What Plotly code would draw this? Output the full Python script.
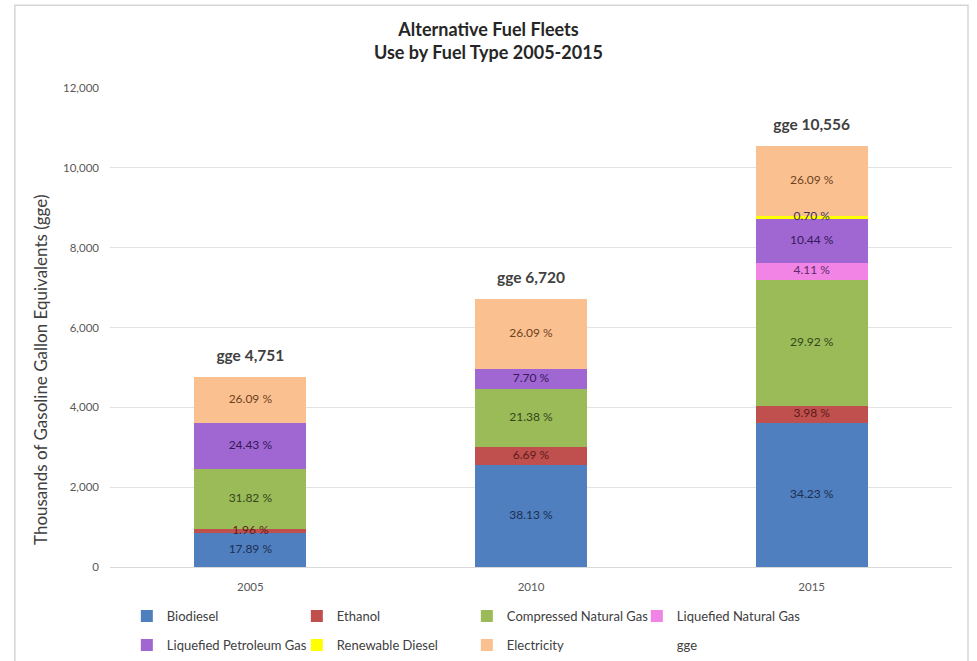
import plotly.graph_objects as go

# Fleet fuel use, thousands of gasoline gallon equivalents (gge)
years = ["2005", "2010", "2015"]
totals = [4751, 6720, 10556]

# Share of each year's total, percent (None = not used that year)
biodiesel_pct = [17.89, 38.13, 34.23]
ethanol_pct = [1.96, 6.69, 3.98]
cng_pct = [31.82, 21.38, 29.92]
lng_pct = [None, None, 4.11]
lpg_pct = [24.43, 7.70, 10.44]
renewable_pct = [None, None, 0.70]
# Electricity labels as printed on the chart; its segment is the remainder of the total
electricity_labels = ["26.09 %", "26.09 %", "26.09 %"]

series = [
    ("Biodiesel", biodiesel_pct, "#4F7FBE", "#1B2F52", "legend"),
    ("Ethanol", ethanol_pct, "#C0504D", "#5C1B1A", "legend"),
    ("Compressed Natural Gas", cng_pct, "#9BBB59", "#34461A", "legend"),
    ("Liquefied Natural Gas", lng_pct, "#F284E6", "#5B2B67", "legend"),
    ("Liquefied Petroleum Gas", lpg_pct, "#A067D2", "#35195A", "legend2"),
    ("Renewable Diesel", renewable_pct, "#FFFF00", "#3A3352", "legend2"),
]

FONT = "Lato, 'Open Sans', sans-serif"

fig = go.Figure()

# running stack height per year, used to place the percentage labels
base = [0.0] * len(years)
lab_x, lab_y, lab_t, lab_c = [], [], [], []

for name, pct, color, txtcolor, leg in series:
    vals = []
    for i, p in enumerate(pct):
        if p is None:
            vals.append(None)
            continue
        v = totals[i] * p / 100.0
        vals.append(v)
        lab_x.append(years[i])
        lab_y.append(base[i] + v / 2)
        lab_t.append(f"{p:.2f} %")
        lab_c.append(txtcolor)
        base[i] += v
    fig.add_trace(go.Bar(
        name=name, x=years, y=vals, legend=leg,
        marker=dict(color=color, line=dict(width=0)),
        hoverinfo="skip",
    ))

electricity = [t - b for t, b in zip(totals, base)]
fig.add_trace(go.Bar(
    name="Electricity", x=years, y=electricity, legend="legend2",
    marker=dict(color="#FAC090", line=dict(width=0)),
    hoverinfo="skip",
))
for i, e in enumerate(electricity):
    lab_x.append(years[i])
    lab_y.append(base[i] + e / 2)
    lab_t.append(electricity_labels[i])
    lab_c.append("#6E4020")

# Percentage labels, drawn above all segments
fig.add_trace(go.Scatter(
    x=lab_x, y=lab_y, text=lab_t, mode="text", showlegend=False,
    textposition="middle center",
    textfont=dict(family=FONT, size=12, color=lab_c),
    cliponaxis=False, hoverinfo="skip",
))

# Total labels above each stack
fig.add_trace(go.Scatter(
    name="gge", x=years, y=totals, mode="markers+text", legend="legend2",
    text=[f"gge {t:,}" for t in totals], textposition="top center",
    marker=dict(size=18, color="rgba(0,0,0,0)"),
    textfont=dict(family=FONT, size=15.5, color="#404040", weight="bold"),
    cliponaxis=False, hoverinfo="skip",
))

legend_common = dict(
    orientation="h", x=0.02, xanchor="left", xref="paper",
    yref="container", yanchor="middle",
    traceorder="normal", entrywidth=125, entrywidthmode="pixels",
    font=dict(family=FONT, size=13, color="#404040"),
    itemclick=False, itemdoubleclick=False,
)

fig.update_layout(
    width=977, height=661,
    margin=dict(l=110, r=25, t=88, b=94, autoexpand=False),
    paper_bgcolor="white", plot_bgcolor="white",
    barmode="stack", bargap=0.6,
    font=dict(family=FONT, color="#595959"),
    title=dict(
        text="Alternative Fuel Fleets<br>Use by Fuel Type 2005-2015",
        x=0.5, xanchor="center", y=1 - 36 / 661, yanchor="top",
        pad=dict(t=0, b=0),
        font=dict(family=FONT, size=18, color="#262626", weight="bold"),
    ),
    xaxis=dict(
        showgrid=False, showline=True, linecolor="#D9D9D9", linewidth=1,
        ticks="", tickfont=dict(size=11.5, color="#595959"),
        ticklabelstandoff=9,
    ),
    yaxis=dict(
        range=[0, 12000], dtick=2000, tickformat=",",
        showgrid=True, gridcolor="#E3E3E3", gridwidth=1,
        zeroline=False, showline=False, ticks="",
        tickfont=dict(size=11.5, color="#595959"), ticklabelstandoff=10,
    ),
    legend=dict(legend_common, y=1 - 616 / 661),
    legend2=dict(legend_common, y=1 - 645 / 661),
    showlegend=True,
)

# Y-axis title
fig.add_annotation(
    text="Thousands of Gasoline Gallon Equivalents (gge)",
    xref="paper", yref="paper", x=(40 - 110) / 842, y=(567 - 370) / 479,
    xanchor="center", yanchor="middle",
    textangle=-90, showarrow=False,
    font=dict(family=FONT, size=17, color="#404040"),
)

# Chart frame
fig.add_shape(
    type="rect", xref="paper", yref="paper",
    x0=-0.113, x1=1.019, y0=-0.25, y1=1.173,
    line=dict(color="#D6D6D6", width=1.5), fillcolor="rgba(0,0,0,0)",
    layer="below",
)

fig.write_html("out.html")
